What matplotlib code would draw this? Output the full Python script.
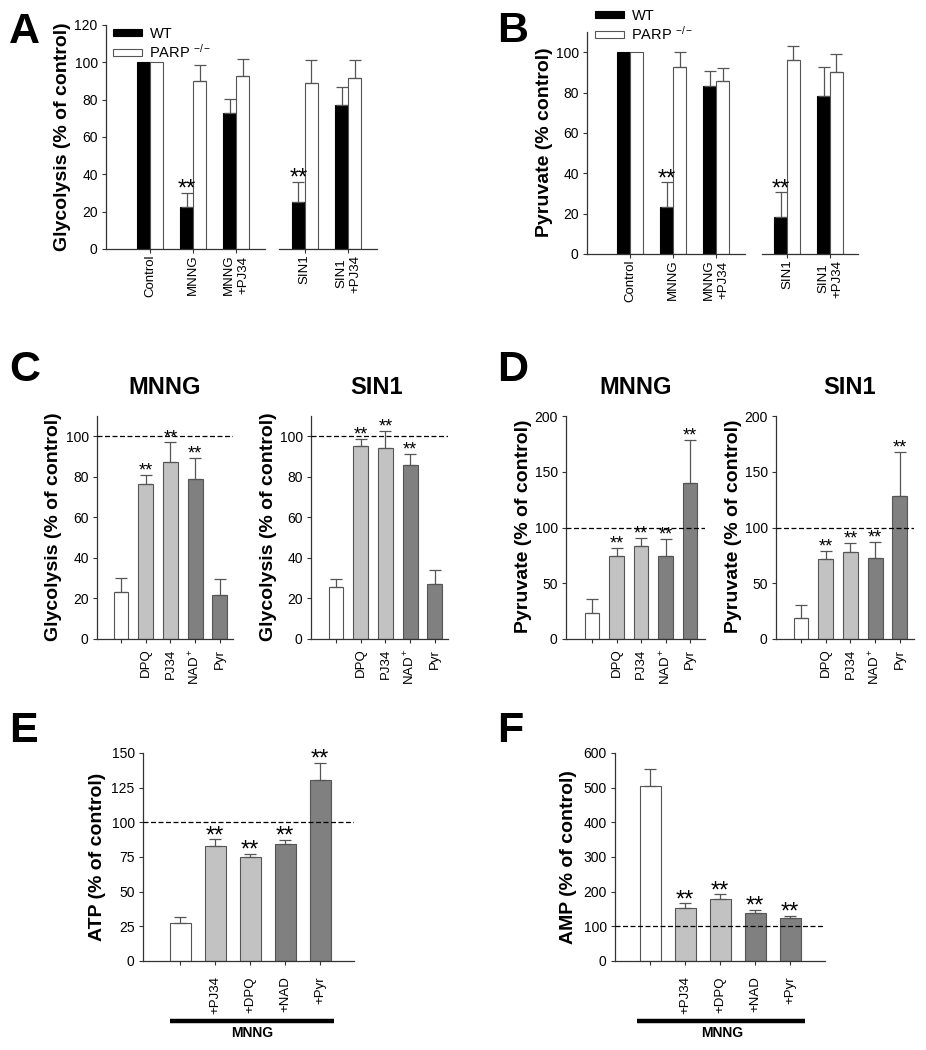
import matplotlib
matplotlib.use('Agg')
import matplotlib.pyplot as plt
import matplotlib.transforms as mtransforms
from matplotlib.patches import Patch
from matplotlib.lines import Line2D
import numpy as np

plt.rcParams['font.family'] = ['Liberation Sans', 'DejaVu Sans']
plt.rcParams['mathtext.fontset'] = 'custom'
plt.rcParams['mathtext.rm'] = 'Liberation Sans'
plt.rcParams['mathtext.it'] = 'Liberation Sans:italic'
plt.rcParams['mathtext.bf'] = 'Liberation Sans:bold'

# ---------------- data ----------------
# Panel A: glycolysis (% of control), WT vs PARP-/-
a_cats_left = ['Control', 'MNNG', 'MNNG\n+PJ34']
a_wt_left = [100, 22.5, 73]
a_wt_left_err = [0, 7.5, 7.5]
a_ko_left = [100, 90, 92.5]
a_ko_left_err = [0, 8.5, 9.5]
a_star_left = [False, True, False]
a_cats_right = ['SIN1', 'SIN1\n+PJ34']
a_wt_right = [25, 77]
a_wt_right_err = [11, 10]
a_ko_right = [89, 91.5]
a_ko_right_err = [12, 10]
a_star_right = [True, False]

# Panel B: pyruvate (% control), WT vs PARP-/-
b_cats_left = ['Control', 'MNNG', 'MNNG\n+PJ34']
b_wt_left = [100, 23.5, 83]
b_wt_left_err = [0, 12, 7.5]
b_ko_left = [100, 92.5, 85.5]
b_ko_left_err = [0, 7.5, 6.5]
b_star_left = [False, True, False]
b_cats_right = ['SIN1', 'SIN1\n+PJ34']
b_wt_right = [18.5, 78.5]
b_wt_right_err = [12, 14]
b_ko_right = [96, 90]
b_ko_right_err = [7, 9]
b_star_right = [True, False]

# Panels C/D
cd_cats = ['', 'DPQ', 'PJ34', 'NAD$^+$', 'Pyr']
c_mnng = [23, 76.5, 87.5, 79, 21.5]
c_mnng_err = [7, 4.5, 9.5, 10.5, 8.3]
c_sin1 = [25.7, 95.3, 94, 85.6, 27.2]
c_sin1_err = [3.8, 3.2, 8.5, 5.6, 6.8]
c_stars = [False, True, True, True, False]
d_mnng = [23.3, 74.6, 83, 74.6, 139.5]
d_mnng_err = [12.5, 7.4, 7.4, 14.9, 39]
d_sin1 = [18.5, 71.6, 78.2, 72.2, 128.5]
d_sin1_err = [12, 7.4, 7.8, 15, 39]
d_stars = [False, True, True, True, True]

# Panels E/F
ef_cats = ['', '+PJ34', '+DPQ', '+NAD', '+Pyr']
e_atp = [27.6, 82.9, 74.8, 84.4, 130.5]
e_atp_err = [4.4, 4.8, 2.4, 2.9, 12.5]
f_amp = [505, 152, 180, 139, 123]
f_amp_err = [48, 15, 12, 9, 8]
ef_stars = [False, True, True, True, True]

# ---------------- figure ----------------
W, H = 926, 1050
fig = plt.figure(figsize=(W / 100, H / 100), dpi=100)
PX = mtransforms.Affine2D().scale(1, -1).translate(0, H)

LIGHT = '#c2c2c2'
DARK = '#808080'
EDGE = '#555555'
SPINE = '#333333'
ERR = '#555555'


def add_ax(l, t, r, b):
    return fig.add_axes([l / W, 1 - b / H, (r - l) / W, (b - t) / H])


def style(ax, left=True, xpad=2):
    ax.spines['top'].set_visible(False)
    ax.spines['right'].set_visible(False)
    ax.spines['left'].set_visible(left)
    for s in ('left', 'bottom'):
        ax.spines[s].set_color(SPINE)
        ax.spines[s].set_linewidth(0.9)
    ax.tick_params(axis='y', direction='out', length=3, width=0.8,
                   labelsize=10, pad=3, color=SPINE)
    ax.tick_params(axis='x', direction='out', length=3, width=0.8,
                   labelsize=9.5, pad=xpad, color=SPINE)
    if not left:
        ax.tick_params(axis='y', left=False, labelleft=False)


def stars(ax, x, top, fs):
    ax.annotate('**', (x, top), xytext=(0, 5.5 - 0.45 * fs),
                textcoords='offset points', ha='center', va='baseline',
                fontsize=fs)


def errs(ax, x, y, e):
    x = np.asarray(x, float); y = np.asarray(y, float); e = np.asarray(e, float)
    m = e > 0
    ax.errorbar(x[m], y[m], yerr=[np.zeros(m.sum()), e[m]], fmt='none',
                ecolor=ERR, elinewidth=0.9, capsize=4, capthick=0.9, zorder=3)


def grouped(ax, cats, wt, wte, ko, koe, st, ylim, xlim, left=True, yticks=None):
    x = np.arange(len(cats))
    w = 0.30
    ax.bar(x - w / 2, wt, w, color='black', edgecolor='black', lw=0.8, zorder=2)
    ax.bar(x + w / 2, ko, w, color='white', edgecolor=EDGE, lw=0.8, zorder=2)
    errs(ax, x - w / 2, wt, wte)
    errs(ax, x + w / 2, ko, koe)
    for xi, yi, ei, s in zip(x, wt, wte, st):
        if s:
            stars(ax, xi - w / 2, yi + ei, 17)
    ax.set_ylim(*ylim)
    ax.set_xlim(*xlim)
    ax.set_xticks(x)
    ax.set_xticklabels(cats, rotation=90, va='top', ha='center')
    if yticks is not None:
        ax.set_yticks(yticks)
    style(ax, left=left, xpad=1)


def single(ax, cats, vals, errv, st, ylim, xlim, yticks, star_fs, colors, xpad):
    x = np.arange(len(cats))
    ax.bar(x, vals, 0.6, color=colors, edgecolor=EDGE, lw=0.8, zorder=2)
    errs(ax, x, vals, errv)
    for xi, yi, ei, s in zip(x, vals, errv, st):
        if s:
            stars(ax, xi, yi + ei, star_fs)
    ax.axhline(100, color='black', lw=0.9, ls=(0, (4, 2)), zorder=4)
    ax.set_ylim(*ylim)
    ax.set_xlim(*xlim)
    ax.set_yticks(yticks)
    ax.set_xticks(x)
    ax.set_xticklabels(cats, rotation=90, va='top', ha='center')
    style(ax, xpad=xpad)


def ylabel(ax, text, right_px, center_px):
    ax.set_ylabel(text, fontsize=14, fontweight='bold')
    ax.yaxis.set_label_coords(right_px, center_px, transform=PX)


bar_colors = ['white', LIGHT, LIGHT, DARK, DARK]

# ---- Panel A ----
axA1 = add_ax(106, 25, 265, 249)
axA2 = add_ax(279, 25, 377, 249)
grouped(axA1, a_cats_left, a_wt_left, a_wt_left_err, a_ko_left, a_ko_left_err,
        a_star_left, (0, 120), (-1.02, 2.67), yticks=np.arange(0, 121, 20))
grouped(axA2, a_cats_right, a_wt_right, a_wt_right_err, a_ko_right, a_ko_right_err,
        a_star_right, (0, 120), (-0.6, 1.67), left=False)
ylabel(axA1, 'Glycolysis (% of control)', 71, 137)

# ---- Panel B ----
axB1 = add_ax(587, 32, 745, 254)
axB2 = add_ax(762, 32, 858, 254)
grouped(axB1, b_cats_left, b_wt_left, b_wt_left_err, b_ko_left, b_ko_left_err,
        b_star_left, (0, 110), (-1.0, 2.67), yticks=np.arange(0, 101, 20))
grouped(axB2, b_cats_right, b_wt_right, b_wt_right_err, b_ko_right, b_ko_right_err,
        b_star_right, (0, 110), (-0.58, 1.65), left=False)
ylabel(axB1, 'Pyruvate (% control)', 553, 142)

legend_handles = [Patch(facecolor='black', edgecolor='black', lw=0.8),
                  Patch(facecolor='white', edgecolor=EDGE, lw=0.8)]
legend_labels = ['WT', 'PARP $^{-/-}$']
for lx, ly in ((113, 27), (595, 9)):
    fig.legend(legend_handles, legend_labels, loc='upper left',
               bbox_to_anchor=(lx, ly), bbox_transform=PX, frameon=False,
               fontsize=10.5, handlelength=2.0, handleheight=0.35,
               handletextpad=0.5, labelspacing=0.1, borderpad=0,
               borderaxespad=0)

# ---- Panel C ----
axC1 = add_ax(97, 416, 233, 639)
axC2 = add_ax(311, 416, 448, 639)
single(axC1, cd_cats, c_mnng, c_mnng_err, c_stars, (0, 110), (-0.97, 4.53),
       np.arange(0, 101, 20), 13, bar_colors, 4)
single(axC2, cd_cats, c_sin1, c_sin1_err, c_stars, (0, 110), (-1.01, 4.53),
       np.arange(0, 101, 20), 13, bar_colors, 4)
ylabel(axC1, 'Glycolysis (% of control)', 62, 527)
ylabel(axC2, 'Glycolysis (% of control)', 277, 527)

# ---- Panel D ----
axD1 = add_ax(566, 416, 705, 639)
axD2 = add_ax(776, 416, 914, 639)
single(axD1, cd_cats, d_mnng, d_mnng_err, d_stars, (0, 200), (-1.06, 4.61),
       np.arange(0, 201, 50), 13, bar_colors, 4)
single(axD2, cd_cats, d_sin1, d_sin1_err, d_stars, (0, 200), (-1.01, 4.57),
       np.arange(0, 201, 50), 13, bar_colors, 4)
ylabel(axD1, 'Pyruvate (% of control)', 532, 526)
ylabel(axD2, 'Pyruvate (% of control)', 742, 526)

# ---- Panel E ----
axE = add_ax(143, 753, 354, 961)
single(axE, ef_cats, e_atp, e_atp_err, ef_stars, (0, 150), (-1.06, 4.97),
       np.arange(0, 151, 25), 17, bar_colors, 8)
ylabel(axE, 'ATP (% of control)', 106, 857)

# ---- Panel F ----
axF = add_ax(615, 753, 825, 961)
single(axF, ef_cats, f_amp, f_amp_err, ef_stars, (0, 600), (-1.0, 5.0),
       np.arange(0, 601, 100), 17, bar_colors, 8)
ylabel(axF, 'AMP (% of control)', 577, 857)

# ---- treatment bars under E/F ----
for x0, x1, xc in ((170, 334, 252), (637, 805, 722)):
    fig.add_artist(Line2D([x0, x1], [1021, 1021], transform=PX, color='black',
                          lw=3.2, solid_capstyle='butt'))
    fig.text(xc, 1033, 'MNNG', transform=PX, ha='center', va='center',
             fontsize=10, fontweight='bold')

# ---- sub-titles for C/D ----
for xc, t in ((165, 'MNNG'), (377, 'SIN1'), (636, 'MNNG'), (850, 'SIN1')):
    fig.text(xc, 387, t, transform=PX, ha='center', va='center',
             fontsize=17, fontweight='bold')

# ---- panel letters ----
for x, y, t in ((9, 43, 'A'), (497, 42, 'B'), (9, 381, 'C'),
                (497, 381, 'D'), (9, 742, 'E'), (497, 742, 'F')):
    fig.text(x, y, t, transform=PX, ha='left', va='baseline',
             fontsize=31, fontweight='bold')

fig.savefig('out.png', dpi=100)
